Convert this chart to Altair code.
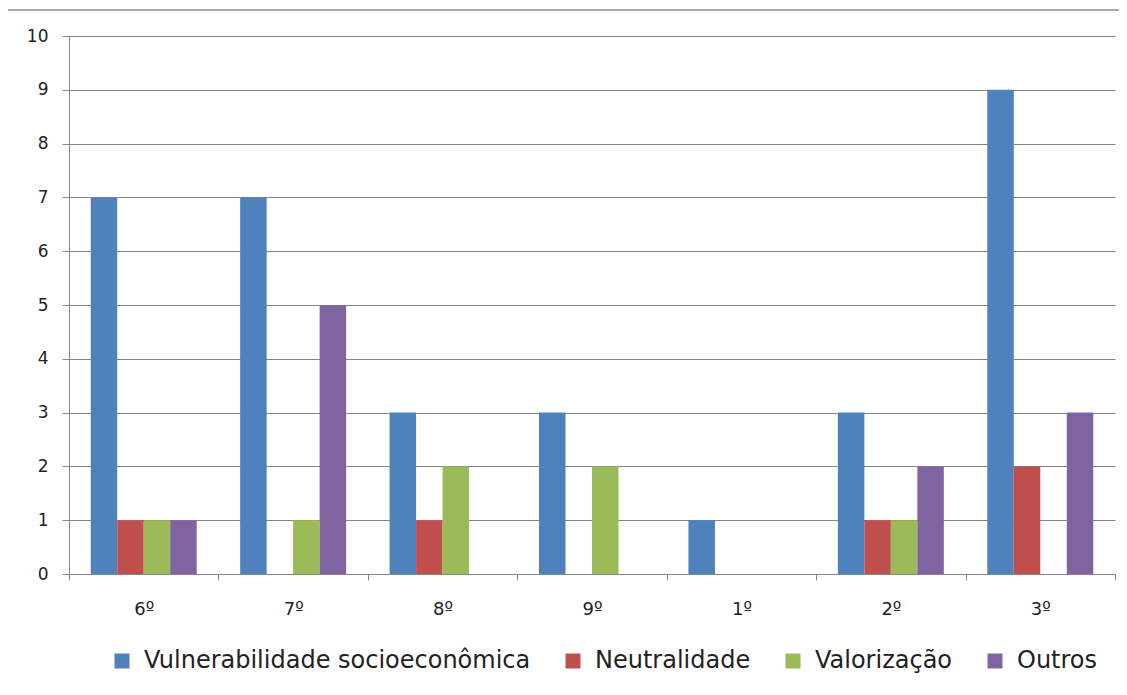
import altair as alt
import pandas as pd

categories = ["6º", "7º", "8º", "9º", "1º", "2º", "3º"]
series_names = ["Vulnerabilidade socioeconômica", "Neutralidade", "Valorização", "Outros"]
vulnerabilidade = [7, 7, 3, 3, 1, 3, 9]
neutralidade = [1, 0, 1, 0, 0, 1, 2]
valorizacao = [1, 1, 2, 2, 0, 1, 0]
outros = [1, 5, 0, 0, 0, 2, 3]
colors = ["#4F81BD", "#C0504D", "#9BBB59", "#8064A2"]

series_values = [vulnerabilidade, neutralidade, valorizacao, outros]
rows = []
for name, vals in zip(series_names, series_values):
    for cat, v in zip(categories, vals):
        rows.append({"serie": cat, "grupo": name, "valor": v})
df = pd.DataFrame(rows)

FONT = "DejaVu Sans"
W, H = 1046, 538

bars = alt.Chart(df).mark_bar(stroke=None).encode(
    x=alt.X(
        "serie:N",
        sort=categories,
        title=None,
        scale=alt.Scale(paddingInner=0, paddingOuter=0),
        axis=alt.Axis(
            tickBand="extent",
            ticks=True,
            tickSize=6,
            tickColor="#868686",
            domainColor="#868686",
            labelAngle=0,
            labelFontSize=18,
            labelFont=FONT,
            labelColor="#222222",
            labelPadding=20,
            grid=False,
        ),
    ),
    xOffset=alt.XOffset(
        "grupo:N",
        sort=series_names,
        scale=alt.Scale(paddingInner=0, paddingOuter=0.82),
    ),
    y=alt.Y(
        "valor:Q",
        title=None,
        scale=alt.Scale(domain=[0, 10], nice=False),
        axis=alt.Axis(
            values=list(range(0, 11)),
            tickSize=7,
            tickColor="#868686",
            domainColor="#868686",
            gridColor="#868686",
            labelFontSize=17,
            labelFont=FONT,
            labelColor="#222222",
            labelPadding=14,
        ),
    ),
    color=alt.Color(
        "grupo:N",
        sort=series_names,
        scale=alt.Scale(domain=series_names, range=colors),
        legend=alt.Legend(
            title=None,
            orient="none",
            direction="horizontal",
            legendX=41,
            legendY=613,
            symbolType="square",
            symbolSize=225,
            symbolStrokeWidth=0,
            labelFontSize=24,
            labelFont=FONT,
            labelColor="#222222",
            labelOffset=10,
            columnPadding=30,
            labelLimit=600,
        ),
    ),
)

frame_df = pd.DataFrame({"k": [0]})
top_line = alt.Chart(frame_df).mark_rule(color="#8c8c8c", strokeWidth=1.5).encode(
    x=alt.value(-62), x2=alt.value(W + 58), y=alt.value(-26)
)
left_line = alt.Chart(frame_df).mark_rule(color="#8c8c8c", strokeWidth=1.5).encode(
    x=alt.value(-62), y=alt.value(-26), y2=alt.value(H + 120)
)

chart = alt.layer(bars, top_line, left_line).properties(
    width=W,
    height=H,
    autosize=alt.AutoSizeParams(type="none"),
    padding={"left": 61, "top": 28, "right": 4, "bottom": 113},
    background="white",
).configure_view(stroke=None)

chart.save("out.html", embed_options={"renderer": "svg", "actions": False})
